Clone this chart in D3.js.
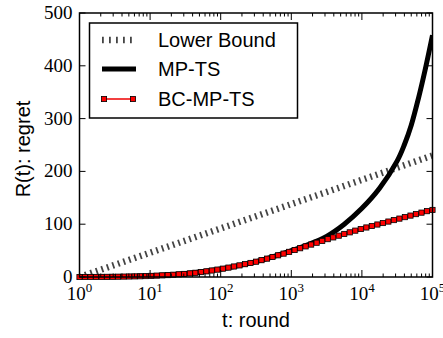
<!DOCTYPE html>
<html lang="en">
<head>
<meta charset="UTF-8">
<title>Regret vs round</title>
<style>
    body { margin: 0; background: #fff; }
    svg { display: block; }
    .tick-num { font-family: "Liberation Serif", "Times New Roman", serif; font-size: 19px; fill: #000; }
    .lab { font-family: "Liberation Sans", Arial, sans-serif; font-size: 20px; fill: #000; }
</style>
</head>
<body>
<div id="chart"></div>
<script src="https://d3js.org/d3.v7.min.js"></script>
<script>
// log10(t) for the lower bound points (one per decade)
const lbExp = [0, 1, 2, 3, 4, 5];
const lbVals = [0, 46, 92, 138, 184, 230];

// MP-TS (black line)
const mpExp = [0, 0.5, 1, 1.5, 2, 2.5, 3, 3.25, 3.5, 3.75, 4, 4.25, 4.5, 4.6, 4.7, 4.8, 4.9, 5];
const mpVals = [0, 0.5, 2, 6, 15, 29, 50, 62, 77, 100, 130, 168, 220, 250, 288, 338, 395, 458];

// BC-MP-TS markers
const bcExp = [0, 0.078, 0.156, 0.234, 0.313, 0.391, 0.469, 0.547, 0.625, 0.703, 0.781, 0.859, 0.938,
    1.016, 1.094, 1.172, 1.25, 1.328, 1.406, 1.484, 1.563, 1.641, 1.719, 1.797, 1.875, 1.953,
    2.031, 2.109, 2.188, 2.266, 2.344, 2.422, 2.5, 2.578, 2.656, 2.734, 2.813, 2.891, 2.969,
    3.047, 3.125, 3.203, 3.281, 3.359, 3.438, 3.516, 3.594, 3.672, 3.75, 3.828, 3.906, 3.984,
    4.063, 4.141, 4.219, 4.297, 4.375, 4.453, 4.531, 4.609, 4.688, 4.766, 4.844, 4.922, 5];
const bcVals = [0, 0.03, 0.06, 0.1, 0.2, 0.3, 0.45, 0.6, 0.8, 1.0, 1.2, 1.45, 1.75,
    2.1, 2.6, 3.1, 3.6, 4.3, 5.1, 5.8, 6.9, 8.0, 9.3, 10.7, 12.3, 14.0,
    15.8, 17.8, 19.9, 22.0, 24.3, 26.6, 29, 31.9, 34.8, 37.9, 41.1, 44.3, 47.6,
    51.1, 54.5, 58.0, 61.4, 64.9, 68.3, 71.7, 75.0, 78.3, 81.5, 84.6, 87.8, 90.9,
    93.8, 96.6, 99.4, 102.2, 105, 107.8, 110.6, 113.4, 116.3, 119.1, 121.9, 124.7, 127];

const yTicks = [0, 100, 200, 300, 400, 500];
const xTickExp = [0, 1, 2, 3, 4, 5];
const legendNames = ["Lower Bound", "MP-TS", "BC-MP-TS"];

const W = 443, H = 338;
const pLeft = 79.5, pRight = 432.5, pTop = 13, pBottom = 277;

const svg = d3.select("#chart").append("svg")
    .attr("width", W).attr("height", H);

const x = d3.scaleLog().domain([1, 1e5]).range([pLeft, pRight]);
const y = d3.scaleLinear().domain([0, 500]).range([pBottom, pTop]);

svg.append("clipPath").attr("id", "clip")
    .append("rect").attr("x", pLeft).attr("y", pTop)
    .attr("width", pRight - pLeft).attr("height", pBottom - pTop);

const plot = svg.append("g").attr("clip-path", "url(#clip)");

const line = d3.line()
    .x(d => x(Math.pow(10, d[0])))
    .y(d => y(d[1]));

// lower bound, thick dotted
plot.append("path")
    .datum(lbExp.map((e, i) => [e, lbVals[i]]))
    .attr("d", line)
    .attr("fill", "none")
    .attr("stroke", "#444")
    .attr("stroke-width", 6.5)
    .attr("stroke-dasharray", "1.8,4");

// MP-TS
plot.append("path")
    .datum(mpExp.map((e, i) => [e, mpVals[i]]))
    .attr("d", line.curve(d3.curveCatmullRom))
    .attr("fill", "none")
    .attr("stroke", "#000")
    .attr("stroke-width", 5);

line.curve(d3.curveLinear);

// BC-MP-TS
const bcData = bcExp.map((e, i) => [e, bcVals[i]]);
svg.append("path")
    .datum(bcData)
    .attr("d", line)
    .attr("fill", "none")
    .attr("stroke", "#e00")
    .attr("stroke-width", 1.5);

svg.append("g").selectAll("rect")
    .data(bcData)
    .join("rect")
    .attr("x", d => x(Math.pow(10, d[0])) - 2.6)
    .attr("y", d => y(d[1]) - 2.6)
    .attr("width", 5.2).attr("height", 5.2)
    .attr("fill", "#f00")
    .attr("stroke", "#000")
    .attr("stroke-width", 0.8);

// frame
svg.append("rect")
    .attr("x", pLeft).attr("y", pTop)
    .attr("width", pRight - pLeft).attr("height", pBottom - pTop)
    .attr("fill", "none").attr("stroke", "#000").attr("stroke-width", 1.5);

// ticks (inward, on all four sides)
const tg = svg.append("g").attr("stroke", "#000").attr("stroke-width", 1);
yTicks.forEach(v => {
    tg.append("line").attr("x1", pLeft).attr("x2", pLeft + 6).attr("y1", y(v)).attr("y2", y(v));
    tg.append("line").attr("x1", pRight).attr("x2", pRight - 6).attr("y1", y(v)).attr("y2", y(v));
});
xTickExp.forEach(e => {
    const px = x(Math.pow(10, e));
    tg.append("line").attr("x1", px).attr("x2", px).attr("y1", pBottom).attr("y2", pBottom - 7);
    tg.append("line").attr("x1", px).attr("x2", px).attr("y1", pTop).attr("y2", pTop + 7);
});
x.ticks().filter(t => !xTickExp.includes(Math.round(Math.log10(t) * 1000) / 1000)).forEach(t => {
    const px = x(t);
    tg.append("line").attr("x1", px).attr("x2", px).attr("y1", pBottom).attr("y2", pBottom - 3.5);
    tg.append("line").attr("x1", px).attr("x2", px).attr("y1", pTop).attr("y2", pTop + 3.5);
});

// tick labels
svg.append("g").selectAll("text")
    .data(yTicks)
    .join("text")
    .attr("class", "tick-num")
    .attr("x", pLeft - 7)
    .attr("y", d => y(d) + 6)
    .attr("text-anchor", "end")
    .text(d => d);

const xl = svg.append("g").selectAll("text")
    .data(xTickExp)
    .join("text")
    .attr("class", "tick-num")
    .attr("x", d => x(Math.pow(10, d)))
    .attr("y", 300)
    .attr("text-anchor", "middle");
xl.append("tspan").text("10");
xl.append("tspan").attr("dy", -8).attr("font-size", 13).text(d => d);

// axis labels
svg.append("text").attr("class", "lab")
    .attr("x", (pLeft + pRight) / 2).attr("y", 327)
    .attr("text-anchor", "middle")
    .text("t: round");

svg.append("text").attr("class", "lab")
    .attr("transform", "translate(30," + 149 + ") rotate(-90)")
    .attr("text-anchor", "middle")
    .text("R(t): regret");

// legend
const lg = svg.append("g");
lg.append("rect")
    .attr("x", 89.5).attr("y", 23)
    .attr("width", 208).attr("height", 95)
    .attr("fill", "#fff").attr("stroke", "#000").attr("stroke-width", 1.5);

const rowY = [40, 69, 99];
lg.append("line").attr("x1", 102).attr("x2", 136).attr("y1", rowY[0]).attr("y2", rowY[0])
    .attr("stroke", "#444").attr("stroke-width", 6.5).attr("stroke-dasharray", "1.8,5.2");
lg.append("line").attr("x1", 102).attr("x2", 136).attr("y1", rowY[1]).attr("y2", rowY[1])
    .attr("stroke", "#000").attr("stroke-width", 5);
lg.append("line").attr("x1", 104).attr("x2", 133).attr("y1", rowY[2]).attr("y2", rowY[2])
    .attr("stroke", "#e00").attr("stroke-width", 1.5);
[104, 133].forEach(px => {
    lg.append("rect").attr("x", px - 2.6).attr("y", rowY[2] - 2.6)
        .attr("width", 5.2).attr("height", 5.2)
        .attr("fill", "#f00").attr("stroke", "#000").attr("stroke-width", 0.8);
});
lg.selectAll("text.leg")
    .data(legendNames)
    .join("text")
    .attr("class", "lab leg")
    .attr("x", 158)
    .attr("y", (d, i) => rowY[i] + 7)
    .text(d => d);
</script>
</body>
</html>
